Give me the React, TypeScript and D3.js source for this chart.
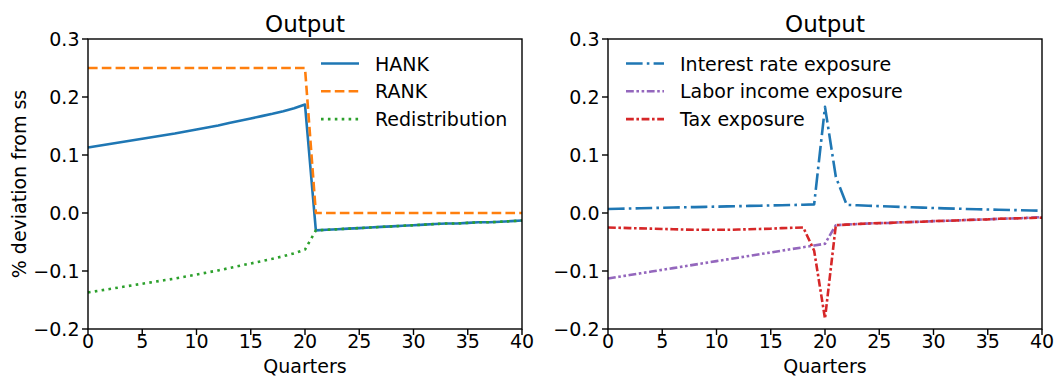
import React from 'react';
import * as d3 from 'd3';

// quarters 0..40
const quarters = d3.range(0, 41);

const hank = [
  0.113, 0.116, 0.119, 0.122, 0.125, 0.128, 0.131, 0.134, 0.137, 0.1405, 0.144,
  0.1475, 0.151, 0.155, 0.159, 0.163, 0.167, 0.171, 0.1755, 0.1805, 0.187,
  -0.030, -0.029, -0.028, -0.027, -0.026, -0.025, -0.024, -0.023, -0.022, -0.021,
  -0.020, -0.019, -0.018, -0.018, -0.017, -0.016, -0.016, -0.015, -0.014, -0.013,
];
const rank = [
  0.25, 0.25, 0.25, 0.25, 0.25, 0.25, 0.25, 0.25, 0.25, 0.25, 0.25,
  0.25, 0.25, 0.25, 0.25, 0.25, 0.25, 0.25, 0.25, 0.25, 0.25,
  0, 0, 0, 0, 0, 0, 0, 0, 0, 0,
  0, 0, 0, 0, 0, 0, 0, 0, 0, 0,
];
const redistribution = [
  -0.137, -0.134, -0.131, -0.128, -0.125, -0.122, -0.119, -0.116, -0.113, -0.1095, -0.106,
  -0.1025, -0.099, -0.095, -0.091, -0.087, -0.083, -0.079, -0.0745, -0.0695, -0.063,
  -0.030, -0.029, -0.028, -0.027, -0.026, -0.025, -0.024, -0.023, -0.022, -0.021,
  -0.020, -0.019, -0.018, -0.018, -0.017, -0.016, -0.016, -0.015, -0.014, -0.013,
];

const interestExp = [
  0.0070, 0.0074, 0.0078, 0.0082, 0.0086, 0.0090, 0.0094, 0.0098, 0.0102, 0.0106, 0.0110,
  0.0114, 0.0118, 0.0122, 0.0126, 0.0130, 0.0134, 0.0138, 0.0142, 0.0148, 0.183,
  0.062, 0.0140, 0.0133, 0.0126, 0.0119, 0.0112, 0.0105, 0.0098, 0.0092, 0.0086,
  0.0080, 0.0075, 0.0070, 0.0065, 0.0060, 0.0056, 0.0052, 0.0048, 0.0044, 0.0040,
];
const laborExp = [
  -0.113, -0.110, -0.107, -0.104, -0.101, -0.098, -0.095, -0.092, -0.089, -0.086, -0.083,
  -0.080, -0.077, -0.074, -0.071, -0.068, -0.065, -0.062, -0.059, -0.056, -0.053,
  -0.021, -0.020, -0.019, -0.018, -0.0175, -0.017, -0.016, -0.0155, -0.015, -0.014,
  -0.0135, -0.013, -0.012, -0.0115, -0.011, -0.010, -0.0095, -0.009, -0.008, -0.007,
];
const taxExp = [
  -0.025, -0.0255, -0.026, -0.0265, -0.027, -0.0275, -0.028, -0.0285, -0.029, -0.029, -0.029,
  -0.029, -0.0285, -0.028, -0.0275, -0.027, -0.026, -0.0255, -0.025, -0.065, -0.182,
  -0.021, -0.020, -0.019, -0.018, -0.0175, -0.017, -0.016, -0.0155, -0.015, -0.014,
  -0.0135, -0.013, -0.012, -0.0115, -0.011, -0.010, -0.0095, -0.009, -0.0085, -0.008,
];

const xTicks = [0, 5, 10, 15, 20, 25, 30, 35, 40];
const yTicks = [-0.2, -0.1, 0.0, 0.1, 0.2, 0.3];

const W = 1056;
const H = 378;
const top = 39;
const bottom = 329;
const font = 'DejaVu Sans, sans-serif';
const fs = 19;
const lw = 2.6;

const leftSeries = [
  { name: 'HANK', values: hank, color: '#1f77b4', dash: null },
  { name: 'RANK', values: rank, color: '#ff7f0e', dash: '9.6,4.2' },
  { name: 'Redistribution', values: redistribution, color: '#2ca02c', dash: '2.6,4.3' },
];
const rightSeries = [
  { name: 'Interest rate exposure', values: interestExp, color: '#1f77b4', dash: '16.6,4.2,2.6,4.2' },
  { name: 'Labor income exposure', values: laborExp, color: '#9467bd', dash: '7.8,2.6,2.6,2.6,2.6,2.6' },
  { name: 'Tax exposure', values: taxExp, color: '#d62728', dash: '7.8,2.6,2.6,2.6' },
];

const fmt = (v: number) => {
  const s = d3.format('.1f')(Math.abs(v) < 1e-9 ? 0 : v);
  return s.replace('-', '\u2212');
};

function Panel({ x0, x1, series, legendX, showYLabel }: any) {
  const x = d3.scaleLinear().domain([0, 40]).range([x0, x1]);
  const y = d3.scaleLinear().domain([-0.2, 0.3]).range([bottom, top]);
  const line = d3
    .line<number>()
    .x((_, i) => x(quarters[i]))
    .y((d) => y(d));
  const cx = (x0 + x1) / 2;

  return (
    <g>
      {/* lines */}
      {series.map((s: any) => (
        <path
          key={s.name}
          d={line(s.values) as string}
          fill="none"
          stroke={s.color}
          strokeWidth={lw}
          strokeDasharray={s.dash || undefined}
          strokeLinejoin="round"
        />
      ))}
      {/* frame */}
      <rect x={x0} y={top} width={x1 - x0} height={bottom - top} fill="none" stroke="#000" strokeWidth={1.4} />
      {/* x ticks */}
      {xTicks.map((t) => (
        <g key={'x' + t}>
          <line x1={x(t)} x2={x(t)} y1={bottom} y2={bottom + 6} stroke="#000" strokeWidth={1.4} />
          <text x={x(t)} y={348} textAnchor="middle" fontSize={fs} fontFamily={font}>
            {t}
          </text>
        </g>
      ))}
      {/* y ticks */}
      {yTicks.map((t) => (
        <g key={'y' + t}>
          <line x1={x0 - 6} x2={x0} y1={y(t)} y2={y(t)} stroke="#000" strokeWidth={1.4} />
          <text x={x0 - 8.5} y={y(t) + 7} textAnchor="end" fontSize={fs} fontFamily={font}>
            {fmt(t)}
          </text>
        </g>
      ))}
      <text x={cx} y={32} textAnchor="middle" fontSize={23} fontFamily={font}>
        Output
      </text>
      <text x={cx} y={372.5} textAnchor="middle" fontSize={fs} fontFamily={font}>
        Quarters
      </text>
      {showYLabel && (
        <text
          transform={`translate(25.5,${(top + bottom) / 2}) rotate(-90)`}
          textAnchor="middle"
          fontSize={fs}
          fontFamily={font}
        >
          % deviation from ss
        </text>
      )}
      {/* legend */}
      {series.map((s: any, i: number) => {
        const ly = 63.5 + i * 27.8;
        return (
          <g key={'lg' + s.name}>
            <line
              x1={legendX}
              x2={legendX + 38}
              y1={ly}
              y2={ly}
              stroke={s.color}
              strokeWidth={lw}
              strokeDasharray={s.dash || undefined}
            />
            <text x={legendX + 54} y={ly + 7} fontSize={fs} fontFamily={font}>
              {s.name}
            </text>
          </g>
        );
      })}
    </g>
  );
}

export default function App() {
  return (
    <svg
      width={W}
      height={H}
      style={{ position: 'absolute', left: 0, top: 0, background: '#fff' }}
    >
      <rect width={W} height={H} fill="#fff" />
      <Panel x0={88} x1={522} series={leftSeries} legendX={321} showYLabel />
      <Panel x0={608} x1={1042} series={rightSeries} legendX={626} showYLabel={false} />
    </svg>
  );
}
